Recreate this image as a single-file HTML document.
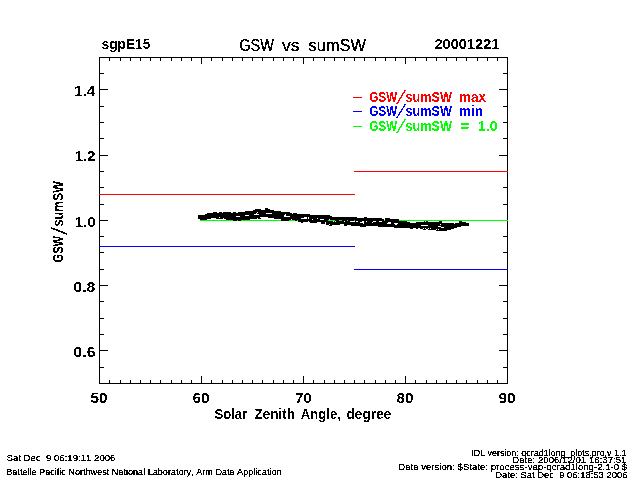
<!DOCTYPE html>
<html><head><meta charset="utf-8"><title>GSW vs sumSW</title>
<style>html,body{margin:0;padding:0;background:#fff;width:640px;height:480px;overflow:hidden}svg{display:block}text{font-family:"Liberation Sans",sans-serif;font-kerning:none}</style>
</head><body>
<svg width="640" height="480" viewBox="0 0 640 480" shape-rendering="crispEdges" font-family="Liberation Sans, sans-serif">
<rect width="640" height="480" fill="#fff"/>
<rect x="99" y="57" width="409" height="1" fill="#000"/>
<rect x="99" y="383" width="409" height="1" fill="#000"/>
<rect x="99" y="57" width="1" height="327" fill="#000"/>
<rect x="507" y="57" width="1" height="327" fill="#000"/>
<rect x="99" y="57" width="1" height="7" fill="#000"/>
<rect x="99" y="376" width="1" height="8" fill="#000"/>
<rect x="109" y="57" width="1" height="4" fill="#000"/>
<rect x="109" y="380" width="1" height="4" fill="#000"/>
<rect x="120" y="57" width="1" height="4" fill="#000"/>
<rect x="120" y="380" width="1" height="4" fill="#000"/>
<rect x="130" y="57" width="1" height="4" fill="#000"/>
<rect x="130" y="380" width="1" height="4" fill="#000"/>
<rect x="140" y="57" width="1" height="4" fill="#000"/>
<rect x="140" y="380" width="1" height="4" fill="#000"/>
<rect x="150" y="57" width="1" height="4" fill="#000"/>
<rect x="150" y="380" width="1" height="4" fill="#000"/>
<rect x="160" y="57" width="1" height="4" fill="#000"/>
<rect x="160" y="380" width="1" height="4" fill="#000"/>
<rect x="171" y="57" width="1" height="4" fill="#000"/>
<rect x="171" y="380" width="1" height="4" fill="#000"/>
<rect x="181" y="57" width="1" height="4" fill="#000"/>
<rect x="181" y="380" width="1" height="4" fill="#000"/>
<rect x="191" y="57" width="1" height="4" fill="#000"/>
<rect x="191" y="380" width="1" height="4" fill="#000"/>
<rect x="201" y="57" width="1" height="7" fill="#000"/>
<rect x="201" y="376" width="1" height="8" fill="#000"/>
<rect x="211" y="57" width="1" height="4" fill="#000"/>
<rect x="211" y="380" width="1" height="4" fill="#000"/>
<rect x="222" y="57" width="1" height="4" fill="#000"/>
<rect x="222" y="380" width="1" height="4" fill="#000"/>
<rect x="232" y="57" width="1" height="4" fill="#000"/>
<rect x="232" y="380" width="1" height="4" fill="#000"/>
<rect x="242" y="57" width="1" height="4" fill="#000"/>
<rect x="242" y="380" width="1" height="4" fill="#000"/>
<rect x="252" y="57" width="1" height="4" fill="#000"/>
<rect x="252" y="380" width="1" height="4" fill="#000"/>
<rect x="262" y="57" width="1" height="4" fill="#000"/>
<rect x="262" y="380" width="1" height="4" fill="#000"/>
<rect x="273" y="57" width="1" height="4" fill="#000"/>
<rect x="273" y="380" width="1" height="4" fill="#000"/>
<rect x="283" y="57" width="1" height="4" fill="#000"/>
<rect x="283" y="380" width="1" height="4" fill="#000"/>
<rect x="293" y="57" width="1" height="4" fill="#000"/>
<rect x="293" y="380" width="1" height="4" fill="#000"/>
<rect x="303" y="57" width="1" height="7" fill="#000"/>
<rect x="303" y="376" width="1" height="8" fill="#000"/>
<rect x="313" y="57" width="1" height="4" fill="#000"/>
<rect x="313" y="380" width="1" height="4" fill="#000"/>
<rect x="324" y="57" width="1" height="4" fill="#000"/>
<rect x="324" y="380" width="1" height="4" fill="#000"/>
<rect x="334" y="57" width="1" height="4" fill="#000"/>
<rect x="334" y="380" width="1" height="4" fill="#000"/>
<rect x="344" y="57" width="1" height="4" fill="#000"/>
<rect x="344" y="380" width="1" height="4" fill="#000"/>
<rect x="354" y="57" width="1" height="4" fill="#000"/>
<rect x="354" y="380" width="1" height="4" fill="#000"/>
<rect x="364" y="57" width="1" height="4" fill="#000"/>
<rect x="364" y="380" width="1" height="4" fill="#000"/>
<rect x="375" y="57" width="1" height="4" fill="#000"/>
<rect x="375" y="380" width="1" height="4" fill="#000"/>
<rect x="385" y="57" width="1" height="4" fill="#000"/>
<rect x="385" y="380" width="1" height="4" fill="#000"/>
<rect x="395" y="57" width="1" height="4" fill="#000"/>
<rect x="395" y="380" width="1" height="4" fill="#000"/>
<rect x="405" y="57" width="1" height="7" fill="#000"/>
<rect x="405" y="376" width="1" height="8" fill="#000"/>
<rect x="415" y="57" width="1" height="4" fill="#000"/>
<rect x="415" y="380" width="1" height="4" fill="#000"/>
<rect x="426" y="57" width="1" height="4" fill="#000"/>
<rect x="426" y="380" width="1" height="4" fill="#000"/>
<rect x="436" y="57" width="1" height="4" fill="#000"/>
<rect x="436" y="380" width="1" height="4" fill="#000"/>
<rect x="446" y="57" width="1" height="4" fill="#000"/>
<rect x="446" y="380" width="1" height="4" fill="#000"/>
<rect x="456" y="57" width="1" height="4" fill="#000"/>
<rect x="456" y="380" width="1" height="4" fill="#000"/>
<rect x="466" y="57" width="1" height="4" fill="#000"/>
<rect x="466" y="380" width="1" height="4" fill="#000"/>
<rect x="477" y="57" width="1" height="4" fill="#000"/>
<rect x="477" y="380" width="1" height="4" fill="#000"/>
<rect x="487" y="57" width="1" height="4" fill="#000"/>
<rect x="487" y="380" width="1" height="4" fill="#000"/>
<rect x="497" y="57" width="1" height="4" fill="#000"/>
<rect x="497" y="380" width="1" height="4" fill="#000"/>
<rect x="507" y="57" width="1" height="7" fill="#000"/>
<rect x="507" y="376" width="1" height="8" fill="#000"/>
<rect x="99" y="383" width="5" height="1" fill="#000"/>
<rect x="503" y="383" width="5" height="1" fill="#000"/>
<rect x="99" y="367" width="5" height="1" fill="#000"/>
<rect x="503" y="367" width="5" height="1" fill="#000"/>
<rect x="99" y="350" width="9" height="1" fill="#000"/>
<rect x="499" y="350" width="9" height="1" fill="#000"/>
<rect x="99" y="334" width="5" height="1" fill="#000"/>
<rect x="503" y="334" width="5" height="1" fill="#000"/>
<rect x="99" y="318" width="5" height="1" fill="#000"/>
<rect x="503" y="318" width="5" height="1" fill="#000"/>
<rect x="99" y="301" width="5" height="1" fill="#000"/>
<rect x="503" y="301" width="5" height="1" fill="#000"/>
<rect x="99" y="285" width="9" height="1" fill="#000"/>
<rect x="499" y="285" width="9" height="1" fill="#000"/>
<rect x="99" y="269" width="5" height="1" fill="#000"/>
<rect x="503" y="269" width="5" height="1" fill="#000"/>
<rect x="99" y="252" width="5" height="1" fill="#000"/>
<rect x="503" y="252" width="5" height="1" fill="#000"/>
<rect x="99" y="236" width="5" height="1" fill="#000"/>
<rect x="503" y="236" width="5" height="1" fill="#000"/>
<rect x="99" y="220" width="9" height="1" fill="#000"/>
<rect x="499" y="220" width="9" height="1" fill="#000"/>
<rect x="99" y="204" width="5" height="1" fill="#000"/>
<rect x="503" y="204" width="5" height="1" fill="#000"/>
<rect x="99" y="187" width="5" height="1" fill="#000"/>
<rect x="503" y="187" width="5" height="1" fill="#000"/>
<rect x="99" y="171" width="5" height="1" fill="#000"/>
<rect x="503" y="171" width="5" height="1" fill="#000"/>
<rect x="99" y="155" width="9" height="1" fill="#000"/>
<rect x="499" y="155" width="9" height="1" fill="#000"/>
<rect x="99" y="138" width="5" height="1" fill="#000"/>
<rect x="503" y="138" width="5" height="1" fill="#000"/>
<rect x="99" y="122" width="5" height="1" fill="#000"/>
<rect x="503" y="122" width="5" height="1" fill="#000"/>
<rect x="99" y="106" width="5" height="1" fill="#000"/>
<rect x="503" y="106" width="5" height="1" fill="#000"/>
<rect x="99" y="89" width="9" height="1" fill="#000"/>
<rect x="499" y="89" width="9" height="1" fill="#000"/>
<rect x="99" y="73" width="5" height="1" fill="#000"/>
<rect x="503" y="73" width="5" height="1" fill="#000"/>
<rect x="99" y="57" width="5" height="1" fill="#000"/>
<rect x="503" y="57" width="5" height="1" fill="#000"/>
<rect x="99" y="194" width="256" height="1" fill="#ff0000"/>
<rect x="354" y="171" width="154" height="1" fill="#ff0000"/>
<rect x="99" y="246" width="256" height="1" fill="#0000ff"/>
<rect x="354" y="269" width="154" height="1" fill="#0000ff"/>
<rect x="200" y="220" width="308" height="1" fill="#00ff00"/>
<path fill="#000" d="M265 208h3v1h-3zM255 209h6v1h-6zM265 209h5v1h-5zM253 210h21v1h-21zM245 211h36v1h-36zM213 212h4v1h-4zM219 212h3v1h-3zM223 212h8v1h-8zM233 212h3v1h-3zM238 212h19v1h-19zM258 212h32v1h-32zM207 213h49v1h-49zM257 213h9v1h-9zM272 213h20v1h-20zM293 213h4v1h-4zM205 214h49v1h-49zM259 214h26v1h-26zM286 214h24v1h-24zM198 215h47v1h-47zM249 215h35v1h-35zM286 215h44v1h-44zM198 216h38v1h-38zM240 216h44v1h-44zM290 216h42v1h-42zM198 217h21v1h-21zM220 217h40v1h-40zM268 217h36v1h-36zM307 217h1v1h-1zM309 217h48v1h-48zM364 217h3v1h-3zM198 218h13v1h-13zM216 218h7v1h-7zM224 218h33v1h-33zM258 218h3v1h-3zM274 218h27v1h-27zM307 218h1v1h-1zM309 218h8v1h-8zM318 218h64v1h-64zM385 218h5v1h-5zM200 219h7v1h-7zM226 219h24v1h-24zM281 219h10v1h-10zM292 219h20v1h-20zM313 219h7v1h-7zM324 219h5v1h-5zM330 219h54v1h-54zM385 219h14v1h-14zM233 220h4v1h-4zM238 220h3v1h-3zM281 220h8v1h-8zM295 220h2v1h-2zM298 220h30v1h-30zM335 220h4v1h-4zM342 220h5v1h-5zM348 220h6v1h-6zM355 220h29v1h-29zM385 220h14v1h-14zM298 221h10v1h-10zM309 221h24v1h-24zM334 221h1v1h-1zM336 221h8v1h-8zM345 221h5v1h-5zM355 221h1v1h-1zM358 221h4v1h-4zM364 221h2v1h-2zM367 221h6v1h-6zM376 221h3v1h-3zM382 221h25v1h-25zM424 221h1v1h-1zM426 221h2v1h-2zM439 221h3v1h-3zM459 221h3v1h-3zM301 222h2v1h-2zM310 222h7v1h-7zM321 222h4v1h-4zM326 222h34v1h-34zM364 222h8v1h-8zM373 222h15v1h-15zM391 222h19v1h-19zM416 222h26v1h-26zM459 222h7v1h-7zM321 223h4v1h-4zM326 223h37v1h-37zM364 223h23v1h-23zM391 223h3v1h-3zM398 223h56v1h-56zM455 223h14v1h-14zM326 224h3v1h-3zM330 224h10v1h-10zM344 224h51v1h-51zM397 224h43v1h-43zM441 224h28v1h-28zM329 225h3v1h-3zM344 225h3v1h-3zM351 225h70v1h-70zM428 225h41v1h-41zM360 226h6v1h-6zM378 226h60v1h-60zM441 226h20v1h-20zM394 227h47v1h-47zM444 227h13v1h-13zM410 228h3v1h-3zM416 228h2v1h-2zM420 228h3v1h-3zM424 228h1v1h-1zM426 228h2v1h-2zM429 228h1v1h-1zM431 228h23v1h-23zM423 229h3v1h-3zM428 229h8v1h-8zM437 229h1v1h-1zM439 229h12v1h-12zM436 230h11v1h-11z"/>
<rect x="353" y="97" width="9" height="1" fill="#ff0000"/>
<rect x="353" y="111" width="9" height="1" fill="#0000ff"/>
<rect x="353" y="126" width="9" height="1" fill="#00ff00"/>
<defs><filter id="bin" x="0" y="0" width="640" height="480" filterUnits="userSpaceOnUse"><feComponentTransfer><feFuncA type="discrete" tableValues="0 1"/></feComponentTransfer></filter><filter id="bin2" x="0" y="0" width="640" height="480" filterUnits="userSpaceOnUse"><feComponentTransfer><feFuncA type="discrete" tableValues="0 1 1"/></feComponentTransfer></filter></defs>
<g filter="url(#bin)">
<text x="101.52" y="49" font-size="14.54" font-weight="bold" fill="#000" textLength="48.87" lengthAdjust="spacingAndGlyphs">sgpE15</text>
<text x="434.49" y="49" font-size="14.54" font-weight="bold" fill="#000" textLength="64.91" lengthAdjust="spacingAndGlyphs">20001221</text>
<text x="74.05" y="96" font-size="14" font-weight="bold" fill="#000" textLength="21.03" lengthAdjust="spacingAndGlyphs">1.4</text>
<text x="75.07" y="161" font-size="14" font-weight="bold" fill="#000" textLength="20.52" lengthAdjust="spacingAndGlyphs">1.2</text>
<text x="75.07" y="227" font-size="14" font-weight="bold" fill="#000" textLength="20.54" lengthAdjust="spacingAndGlyphs">1.0</text>
<text x="73.37" y="292" font-size="14" font-weight="bold" fill="#000" textLength="22.12" lengthAdjust="spacingAndGlyphs">0.8</text>
<text x="73.37" y="357" font-size="14" font-weight="bold" fill="#000" textLength="22.21" lengthAdjust="spacingAndGlyphs">0.6</text>
<text x="90.53" y="403" font-size="14" font-weight="bold" fill="#000" textLength="17.1" lengthAdjust="spacingAndGlyphs">50</text>
<text x="192.43" y="403" font-size="14" font-weight="bold" fill="#000" textLength="17.2" lengthAdjust="spacingAndGlyphs">60</text>
<text x="295.37" y="403" font-size="14" font-weight="bold" fill="#000" textLength="16.23" lengthAdjust="spacingAndGlyphs">70</text>
<text x="396.51" y="403" font-size="14" font-weight="bold" fill="#000" textLength="17.12" lengthAdjust="spacingAndGlyphs">80</text>
<text x="498.46" y="403" font-size="14" font-weight="bold" fill="#000" textLength="17.17" lengthAdjust="spacingAndGlyphs">90</text>
<text x="214.62" y="419" font-size="14" font-weight="bold" fill="#000" textLength="32.57" lengthAdjust="spacingAndGlyphs">Solar</text>
<text x="254.6" y="419" font-size="14" font-weight="bold" fill="#000" textLength="40.23" lengthAdjust="spacingAndGlyphs">Zenith</text>
<text x="300.67" y="419" font-size="14" font-weight="bold" fill="#000" textLength="40.21" lengthAdjust="spacingAndGlyphs">Angle,</text>
<text x="346.44" y="419" font-size="14" font-weight="bold" fill="#000" textLength="45.03" lengthAdjust="spacingAndGlyphs">degree</text>
<text transform="translate(63,0) rotate(-90)" x="-262.45" y="0" font-size="15.2" font-weight="bold" fill="#000" textLength="26.47" lengthAdjust="spacingAndGlyphs">GSW</text>
<text transform="translate(63,0) rotate(-90)" x="-226.44" y="0" font-size="15.2" font-weight="bold" fill="#000" textLength="45.45" lengthAdjust="spacingAndGlyphs">sumSW</text>
<text transform="translate(63,0) rotate(-90) translate(-234.97,3.79) skewX(-6.94)" x="0" y="0" font-size="21.79" font-weight="normal" fill="#000">/</text>
<text x="369.53" y="102" font-size="14" font-weight="bold" fill="#ff0000" textLength="27.48" lengthAdjust="spacingAndGlyphs">GSW</text>
<text x="405.55" y="102" font-size="14" font-weight="bold" fill="#ff0000" textLength="46.46" lengthAdjust="spacingAndGlyphs">sumSW</text>
<text x="459.11" y="102" font-size="14" font-weight="bold" fill="#ff0000" textLength="26.99" lengthAdjust="spacingAndGlyphs">max</text>
<text transform="translate(396.06,103.81) skewX(-18.57)" x="0" y="0" font-size="19.06" font-weight="normal" fill="#ff0000">/</text>
<text x="369.53" y="116" font-size="14" font-weight="bold" fill="#0000ff" textLength="27.48" lengthAdjust="spacingAndGlyphs">GSW</text>
<text x="405.55" y="116" font-size="14" font-weight="bold" fill="#0000ff" textLength="46.46" lengthAdjust="spacingAndGlyphs">sumSW</text>
<text x="459.12" y="116" font-size="14" font-weight="bold" fill="#0000ff" textLength="23.71" lengthAdjust="spacingAndGlyphs">min</text>
<text transform="translate(396.06,117.81) skewX(-18.57)" x="0" y="0" font-size="19.06" font-weight="normal" fill="#0000ff">/</text>
<text x="369.53" y="131" font-size="14" font-weight="bold" fill="#00ff00" textLength="27.48" lengthAdjust="spacingAndGlyphs">GSW</text>
<text x="405.55" y="131" font-size="14" font-weight="bold" fill="#00ff00" textLength="46.46" lengthAdjust="spacingAndGlyphs">sumSW</text>
<text x="460.34" y="131" font-size="14" font-weight="bold" fill="#00ff00" textLength="9.32" lengthAdjust="spacingAndGlyphs">=</text>
<text x="478.12" y="131" font-size="14" font-weight="bold" fill="#00ff00" textLength="19.46" lengthAdjust="spacingAndGlyphs">1.0</text>
<text transform="translate(396.06,132.81) skewX(-18.57)" x="0" y="0" font-size="19.06" font-weight="normal" fill="#00ff00">/</text>
</g>
<g filter="url(#bin2)">
<text x="239.27" y="51" font-size="16.8" font-weight="normal" fill="#000" textLength="34.78" lengthAdjust="spacingAndGlyphs">GSW</text>
<text x="281.94" y="51" font-size="16.8" font-weight="normal" fill="#000" textLength="17.7" lengthAdjust="spacingAndGlyphs">vs</text>
<text x="308.54" y="51" font-size="16.8" font-weight="normal" fill="#000" textLength="57.51" lengthAdjust="spacingAndGlyphs">sumSW</text>
<text x="6.56" y="461" font-size="9" font-weight="normal" fill="#000" textLength="108.86" lengthAdjust="spacingAndGlyphs">Sat Dec&#160; 9 06:19:11 2006</text>
<text x="6.25" y="475" font-size="9" font-weight="normal" fill="#000" textLength="275.34" lengthAdjust="spacingAndGlyphs">Battelle Pacific Northwest National Laboratory, Arm Data Application</text>
<text x="471.18" y="456" font-size="8.5" font-weight="normal" fill="#000" textLength="155.26" lengthAdjust="spacingAndGlyphs">IDL version: qcrad1long_plots.pro,v 1.1</text>
<text x="512.21" y="463" font-size="8.5" font-weight="normal" fill="#000" textLength="114.26" lengthAdjust="spacingAndGlyphs">Date: 2006/12/01 16:37:51</text>
<text x="398.21" y="470" font-size="8.5" font-weight="normal" fill="#000" textLength="228.94" lengthAdjust="spacingAndGlyphs">Data version: $State: process-vap-qcrad1long-2.1-0 $</text>
<text x="495.23" y="478" font-size="8.5" font-weight="normal" fill="#000" textLength="132.19" lengthAdjust="spacingAndGlyphs">Date: Sat Dec&#160; 9 06:18:53 2006</text>
</g>
</svg>
</body></html>
